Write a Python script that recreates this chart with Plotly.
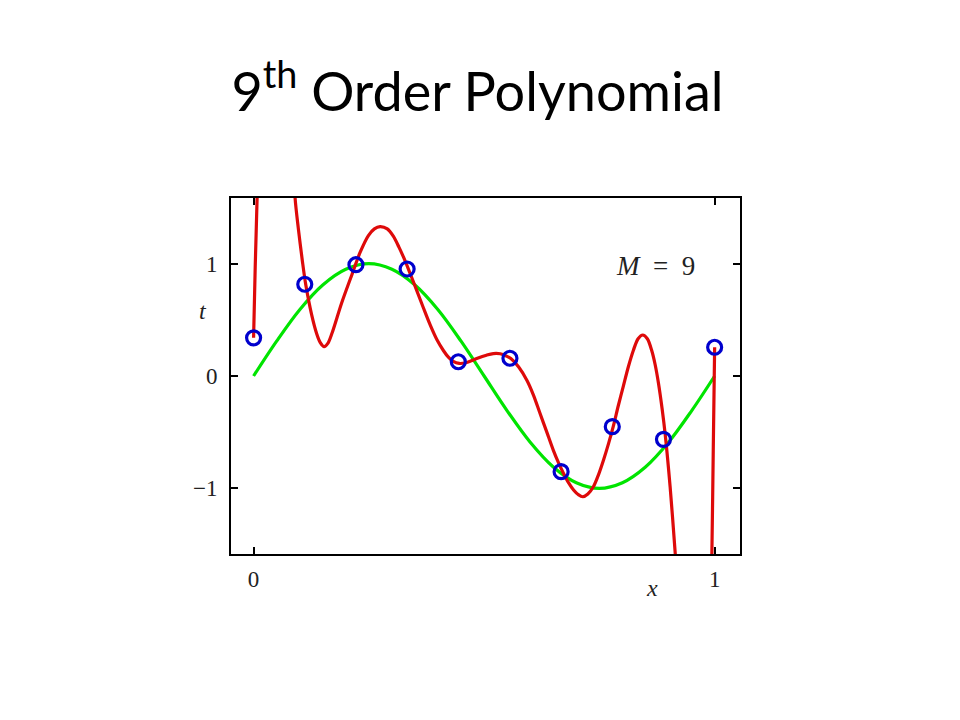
import plotly.graph_objects as go

# Observed data points (blue circles)
pts_x = [0.0, 0.111, 0.222, 0.333, 0.444, 0.556, 0.667, 0.778, 0.889, 1.0]
pts_y = [0.34, 0.817, 0.991, 0.953, 0.127, 0.158, -0.852, -0.451, -0.564, 0.256]

# Green curve (true function)
green_x = [0.0, 0.05, 0.1, 0.15, 0.2, 0.25, 0.3, 0.35, 0.4, 0.45, 0.5,
           0.55, 0.6, 0.65, 0.7, 0.75, 0.8, 0.85, 0.9, 0.95, 1.0]
green_y = [0.0, 0.31, 0.59, 0.81, 0.95, 1.0, 0.95, 0.81, 0.59, 0.31, 0.0,
           -0.31, -0.59, -0.81, -0.95, -1.0, -0.95, -0.81, -0.59, -0.31, 0.0]

# Red curve (M = 9 fit); None splits branches
red_x = [0.0, 0.0035, 0.0076, 0.0115, None,
         0.086, 0.090, 0.097, 0.106, 0.113, 0.126, 0.137, 0.145, 0.153, 0.161,
         0.170, 0.191, 0.213, 0.231, 0.249, 0.262, 0.2744, 0.290, 0.303, 0.315,
         0.325, 0.336, 0.354, 0.368, 0.383, 0.398, 0.412, 0.423, 0.433, 0.446,
         0.460, 0.472, 0.484, 0.505, 0.520, 0.535, 0.548, 0.558, 0.575, 0.593,
         0.607, 0.621, 0.636, 0.650, 0.661, 0.672, 0.683, 0.694, 0.704, 0.714,
         0.725, 0.737, 0.748, 0.759, 0.770, 0.780, 0.791, 0.802, 0.813, 0.824,
         0.834, 0.844, 0.854, 0.864, 0.871, 0.878, 0.886, 0.893, 0.9035, 0.914,
         0.920, None,
         0.991, 0.994, 0.997, 1.0]
red_y = [0.34, 0.97, 1.585, 2.3, None,
         2.0, 1.585, 1.315, 1.018, 0.817, 0.545, 0.375, 0.295, 0.261, 0.29,
         0.38, 0.65, 0.90, 1.10, 1.25, 1.31, 1.33, 1.31, 1.245, 1.15,
         1.06, 0.95, 0.76, 0.61, 0.455, 0.32, 0.225, 0.165, 0.13, 0.112,
         0.118, 0.135, 0.155, 0.185, 0.20, 0.198, 0.178, 0.155, 0.08, -0.04,
         -0.17, -0.33, -0.50, -0.66, -0.77, -0.866, -0.95, -1.015, -1.055, -1.075,
         -1.05, -0.986, -0.88, -0.748, -0.60, -0.451, -0.265, -0.09, 0.085, 0.232,
         0.332, 0.365, 0.332, 0.22, 0.10, -0.06, -0.29, -0.53, -0.99, -1.55,
         -1.9, None,
         -2.2, -1.58, -0.66, 0.256]

x_ticks = [0, 1]
x_tick_text = ["0", "1"]
y_ticks = [-1, 0, 1]
y_tick_text = ["\u22121", "0", "1"]

RED = "rgb(222,10,10)"
GREEN = "rgb(0,228,0)"
BLUE = "rgb(0,0,205)"
SERIF = "Liberation Serif, DejaVu Serif, serif"

fig = go.Figure()
fig.add_trace(go.Scatter(x=green_x, y=green_y, mode="lines",
                         line=dict(color=GREEN, width=3.2, shape="spline"),
                         hoverinfo="skip"))
fig.add_trace(go.Scatter(x=red_x, y=red_y, mode="lines", connectgaps=False,
                         line=dict(color=RED, width=3.2, shape="spline", smoothing=0.9),
                         hoverinfo="skip"))
fig.add_trace(go.Scatter(x=pts_x, y=pts_y, mode="markers", cliponaxis=False,
                         marker=dict(symbol="circle-open", size=14, color=BLUE,
                                     line=dict(color=BLUE, width=3.2))))

fig.update_layout(
    width=960, height=720,
    paper_bgcolor="white", plot_bgcolor="white",
    showlegend=False,
    margin=dict(l=223, r=228, t=190, b=174),
    title=dict(text="9<sup>th</sup> Order Polynomial",
               font=dict(family="Lato, Open Sans, sans-serif", size=54, color="black"),
               x=0.489, xanchor="center", xref="container",
               y=0.883, yanchor="middle", yref="container"),
    xaxis=dict(range=[-0.049, 1.055], tickvals=x_ticks, ticktext=x_tick_text,
               ticks="inside", ticklen=7, tickwidth=1.5, tickcolor="black",
               showline=True, linecolor="black", linewidth=2, mirror="ticks",
               showgrid=False, zeroline=False,
               tickfont=dict(family=SERIF, size=23, color="#222"),
               ticklabelstandoff=3),
    yaxis=dict(range=[-1.585, 1.585], tickvals=y_ticks, ticktext=y_tick_text,
               ticks="inside", ticklen=7, tickwidth=1.5, tickcolor="black",
               showline=True, linecolor="black", linewidth=2, mirror="ticks",
               showgrid=False, zeroline=False,
               tickfont=dict(family=SERIF, size=23, color="#222"),
               ticklabelstandoff=7),
    annotations=[
        dict(text="<i>M</i>\u00a0\u00a0=\u00a0\u00a09", x=0.871, y=0.98, xref="x", yref="y",
             xanchor="center", yanchor="middle",
             showarrow=False, font=dict(family=SERIF, size=27, color="#222")),
        dict(text="<i>x</i>", x=0.864, y=-0.095, xref="x", yref="paper",
             xanchor="center", yanchor="middle",
             showarrow=False, font=dict(family=SERIF, size=24, color="#222")),
        dict(text="<i>t</i>", x=-0.055, y=0.58, xref="paper", yref="y",
             xanchor="center", yanchor="middle",
             showarrow=False, font=dict(family=SERIF, size=24, color="#222")),
    ],
)

fig.write_html("out.html")
